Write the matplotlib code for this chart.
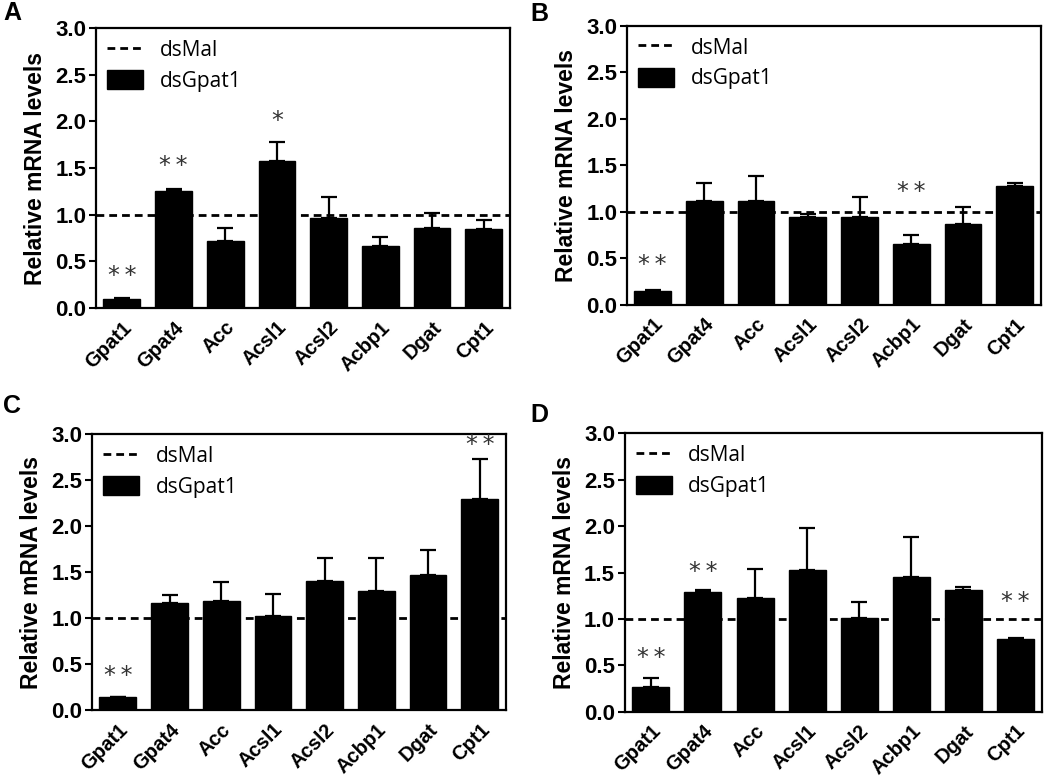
import numpy as np
import matplotlib.pyplot as plt
from matplotlib.patches import Patch
from matplotlib.lines import Line2D

plt.rcParams['font.family'] = ['Liberation Sans', 'DejaVu Sans']

genes = ['Gpat1', 'Gpat4', 'Acc', 'Acsl1', 'Acsl2', 'Acbp1', 'Dgat', 'Cpt1']

# mean values (dsGpat1 relative to dsMal) and upper SEM for each panel
means_a = [0.10, 1.25, 0.72, 1.58, 0.97, 0.66, 0.86, 0.85]
errs_a = [0.01, 0.03, 0.14, 0.20, 0.22, 0.10, 0.16, 0.09]
stars_a = ['**', '**', '', '*', '', '', '', '']

means_b = [0.15, 1.12, 1.12, 0.94, 0.95, 0.66, 0.87, 1.28]
errs_b = [0.01, 0.19, 0.26, 0.04, 0.21, 0.09, 0.18, 0.03]
stars_b = ['**', '', '', '', '', '**', '', '']

means_c = [0.14, 1.17, 1.19, 1.02, 1.41, 1.30, 1.47, 2.30]
errs_c = [0.01, 0.08, 0.20, 0.24, 0.24, 0.35, 0.27, 0.43]
stars_c = ['**', '', '', '', '', '', '', '**']

means_d = [0.27, 1.29, 1.23, 1.53, 1.01, 1.45, 1.31, 0.79]
errs_d = [0.09, 0.02, 0.31, 0.45, 0.17, 0.43, 0.04, 0.01]
stars_d = ['**', '**', '', '', '', '', '', '**']

# centre height of the star text (data units)
star_y_a = [0.34, 1.52, 0, 2.00, 0, 0, 0, 0]
star_y_b = [0.43, 0, 0, 0, 0, 1.21, 0, 0]
star_y_c = [0.37, 0, 0, 0, 0, 0, 0, 2.88]
star_y_d = [0.58, 1.51, 0, 0, 0, 0, 0, 1.18]

panels = [
    ('A', means_a, errs_a, stars_a, star_y_a, [0.0914, 0.604, 0.394, 0.360], (3, 13)),
    ('B', means_b, errs_b, stars_b, star_y_b, [0.597, 0.608, 0.394, 0.359], (530, 14)),
    ('C', means_c, errs_c, stars_c, star_y_c, [0.0876, 0.087, 0.394, 0.355], (3, 406)),
    ('D', means_d, errs_d, stars_d, star_y_d, [0.595, 0.085, 0.397, 0.358], (530, 415)),
]

W, H = 1050, 778
fig = plt.figure(figsize=(W / 100, H / 100), dpi=100)
dash = (0, (2.8, 1.8))

for letter, means, errs, stars, star_y, rect, lpos in panels:
    ax = fig.add_axes(rect)
    x = np.arange(len(genes))
    ax.bar(x, means, width=0.71, color='black', edgecolor='black', zorder=2)
    ax.errorbar(x, means, yerr=[np.zeros(len(errs)), errs], fmt='none',
                ecolor='black', elinewidth=1.6, capsize=6, capthick=1.6, zorder=1)
    ax.axhline(1.0, color='black', linestyle=dash, linewidth=2.0, zorder=3)

    for i, s in enumerate(stars):
        if s:
            ax.text(x[i], star_y[i], '\u2009'.join(s), ha='center', va='center',
                    fontsize=17, color='#333333', family='DejaVu Sans')

    ax.set_xlim(-0.5, 7.5)
    ax.set_ylim(0, 3.0)
    yt = np.arange(0, 3.01, 0.5)
    ax.set_yticks(yt)
    ax.set_yticklabels([f'{v:.1f}' for v in yt], fontsize=16, fontweight='bold')
    ax.set_xticks(x)
    ax.set_xticklabels(genes, rotation=45, ha='right', rotation_mode='anchor',
                       fontsize=14.5, fontweight='bold')
    ax.tick_params(axis='x', length=0, pad=7)
    ax.tick_params(axis='y', length=5, width=1.5, pad=2)
    for sp in ax.spines.values():
        sp.set_linewidth(1.6)
    ax.set_ylabel('Relative mRNA levels', fontsize=16.5, fontweight='bold', labelpad=6)

    handles = [Line2D([0], [0], color='black', linestyle=dash, linewidth=2.0),
               Patch(facecolor='black', edgecolor='black')]
    ax.legend(handles, ['dsMal', 'dsGpat1'], loc='upper left', frameon=False,
              prop={'family': 'Open Sans', 'size': 15}, handlelength=1.7,
              handleheight=1.0, handletextpad=0.8, borderaxespad=0.35,
              borderpad=0.2, labelspacing=0.45)

    fig.text(lpos[0] / W, 1 - lpos[1] / H, letter, fontsize=18,
             fontweight='bold', va='center', ha='left')

fig.savefig('out.png', dpi=100)
